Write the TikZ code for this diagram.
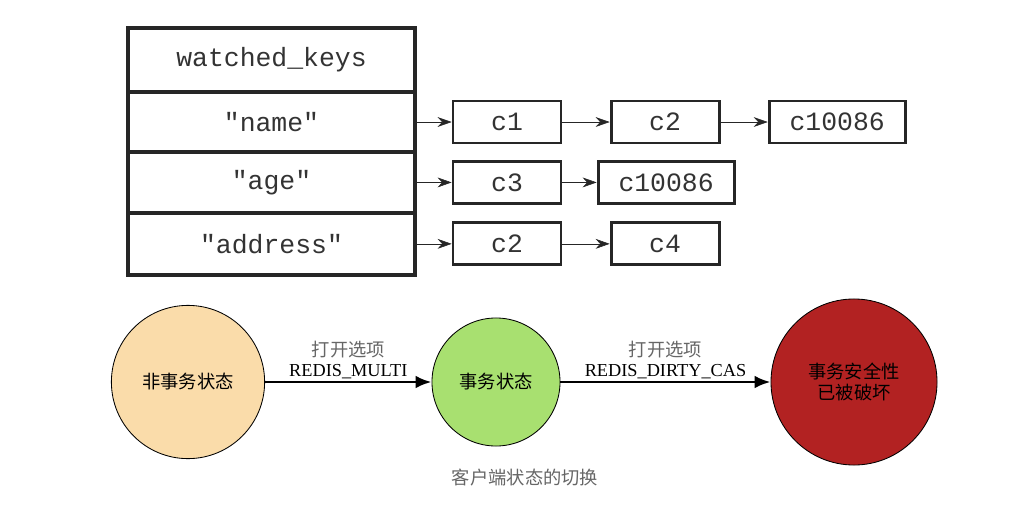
\documentclass[tikz,border=0pt]{standalone}
\usepackage{fontspec}
\setmainfont{Liberation Serif}
\newfontfamily\cjk{Noto Sans CJK SC}
\newfontfamily\keyfont{Liberation Mono}
\usepackage{tikz}
\usetikzlibrary{positioning,arrows,arrows.meta}
\definecolor{nontx}{RGB}{250,220,170}
\definecolor{intx}{RGB}{168,224,112}
\definecolor{dirtytx}{RGB}{178,34,34}
\tikzset{
  keyrow/.style={rectangle, draw=black!85, line width=3.2pt, outer sep=0pt,
                 minimum width=7.175cm, minimum height=1.52cm, text=black!80,
                 font=\keyfont\fontsize{18.8}{22}\selectfont},
  client/.style={rectangle, draw=black!85, line width=2pt, outer sep=0pt,
                 minimum width=2.7cm, minimum height=1.05cm, text=black!80,
                 font=\keyfont\fontsize{18.8}{22}\selectfont},
  wideclient/.style={client, minimum width=3.4cm},
  link/.style={draw=black!85, thin, shorten >=1pt, -{Stealth[length=10pt,width=7pt]}},
  state/.style={circle, draw=black, line width=0.6pt, inner sep=0pt, align=center,
                font=\cjk\fontsize{13}{14.5}\selectfont},
  trans/.style={draw, line width=2.1pt, -{Latex[length=0.4cm,width=0.32cm]}},
  translabel/.style={midway, above, align=center, inner sep=1pt,
                     font=\fontsize{13}{14.5}\selectfont}
}

\begin{document}
\begin{tikzpicture}[x=0.025cm,y=-0.025cm]
    \useasboundingbox (0,0) rectangle (1029,518);
    % watched_keys dictionary
    \node (keys) [keyrow, minimum height=1.6cm] at (271.5,60) {watched\_keys};
    \node (name) [keyrow, minimum height=1.5cm, below=0pt of keys] {"name"};
    \node (age) [keyrow, below=0pt of name] {"age"};
    \node (address) [keyrow, minimum height=1.55cm, below=0pt of age] {"address"};

    % clients watching each key
    \node (c1) [client, right=0.95cm of name] {c1};
    \node (c2a) [client, right=1.25cm of c1] {c2};
    \node (c10086a) [wideclient, right=1.25cm of c2a] {c10086};
    \node (c3) [client, right=0.95cm of age] {c3};
    \node (c10086b) [wideclient, right=0.925cm of c3] {c10086};
    \node (c2b) [client, right=0.95cm of address] {c2};
    \node (c4) [client, right=1.25cm of c2b] {c4};
    \draw [link] (name) -- (c1);
    \draw [link] (c1) -- (c2a);
    \draw [link] (c2a) -- (c10086a);
    \draw [link] (age) -- (c3);
    \draw [link] (c3) -- (c10086b);
    \draw [link] (address) -- (c2b);
    \draw [link] (c2b) -- (c4);

    % client states
    \node (nontx) [state, fill=nontx, minimum size=3.83cm] at (188,382) {非事务状态};
    \node (intx) [state, fill=intx, minimum size=3.2cm] at (496,382) {事务状态};
    \node (dirty) [state, fill=dirtytx, minimum size=4.15cm] at (854,382) {事务安全性\\已被破坏};
    \draw [trans] (nontx) -- node [translabel] {{\cjk\color{black!60}打开选项}\\REDIS\_MULTI} (intx);
    \draw [trans] (intx) -- node [translabel] {{\cjk\color{black!60}打开选项}\\REDIS\_DIRTY\_CAS} (dirty);
    \node (caption) at (525,478) [text=black!60, font=\cjk\fontsize{13}{14.5}\selectfont] {客户端状态的切换};

\end{tikzpicture}
\end{document}
